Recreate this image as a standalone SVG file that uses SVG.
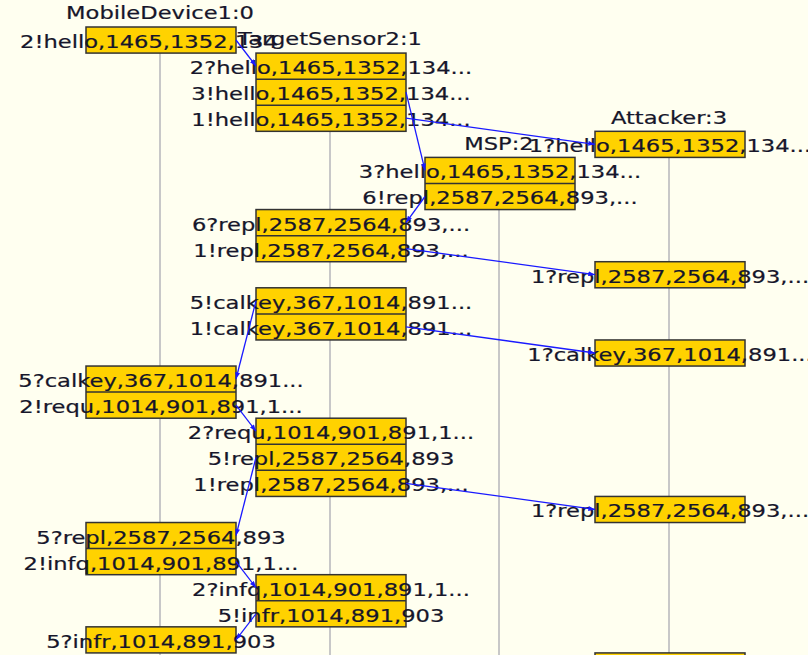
<svg xmlns="http://www.w3.org/2000/svg" width="808" height="655" viewBox="0 0 808 655">
  <defs>
    <style>
      .bg { fill: #FFFFF0; }
      .life { stroke: #C8C8C8; stroke-width: 2; fill: none; }
      .act { fill: #FFD200; stroke: #333333; stroke-width: 1.5; }
      .sep { stroke: #333333; stroke-width: 1.5; }
      .t { font-family: "DejaVu Sans", Verdana, sans-serif; font-size: 17px; fill: #16162A; stroke: #16162A; stroke-width: 0.2; text-anchor: middle; }
      .msg { stroke: #1A1AFF; stroke-width: 1.3; fill: none; marker-end: url(#head); }
    </style>
    <marker id="head" viewBox="0 0 8 6" refX="8" refY="3" markerWidth="7" markerHeight="5" markerUnits="userSpaceOnUse" orient="auto">
      <path d="M0,0 L8,3 L0,6 z" fill="#1A1AFF"/>
    </marker>
  </defs>

  <rect class="bg" x="0" y="0" width="808" height="655"/>

  <!-- lifelines -->
  <g id="lifelines">
    <line class="life" x1="160" y1="40" x2="160" y2="655"/>
    <line class="life" x1="330" y1="66" x2="330" y2="655"/>
    <line class="life" x1="499" y1="170" x2="499" y2="655"/>
    <line class="life" x1="669" y1="144" x2="669" y2="655"/>
  </g>

  <!-- MobileDevice1:0 -->
  <g id="mobile-device">
    <text class="t" transform="translate(160,19) scale(1.33,1)">MobileDevice1:0</text>
    <rect class="act" x="86" y="27" width="150" height="26.08"/>
    <rect class="act" x="86" y="366.04" width="150" height="52.16"/>
    <line class="sep" x1="86" y1="392.12" x2="236" y2="392.12"/>
    <rect class="act" x="86" y="522.52" width="150" height="52.16"/>
    <line class="sep" x1="86" y1="548.6" x2="236" y2="548.6"/>
    <rect class="act" x="86" y="626.84" width="150" height="26.08"/>
    <text class="t" style="text-anchor:start" transform="translate(20,48) scale(1.33,1)">2!hello,1465,1352,134</text>
    <text class="t" transform="translate(161,387.04) scale(1.33,1)">5?calkey,367,1014,891...</text>
    <text class="t" transform="translate(161,413.12) scale(1.33,1)">2!requ,1014,901,891,1...</text>
    <text class="t" transform="translate(161,543.52) scale(1.33,1)">5?repl,2587,2564,893</text>
    <text class="t" transform="translate(161,569.6) scale(1.33,1)">2!infq,1014,901,891,1...</text>
    <text class="t" transform="translate(161,647.84) scale(1.33,1)">5?infr,1014,891,903</text>
  </g>

  <!-- TargetSensor2:1 -->
  <g id="target-sensor">
    <text class="t" transform="translate(330,45) scale(1.33,1)">TargetSensor2:1</text>
    <rect class="act" x="256" y="53.08" width="150" height="78.24"/>
    <line class="sep" x1="256" y1="79.16" x2="406" y2="79.16"/>
    <line class="sep" x1="256" y1="105.24" x2="406" y2="105.24"/>
    <rect class="act" x="256" y="209.56" width="150" height="52.16"/>
    <line class="sep" x1="256" y1="235.64" x2="406" y2="235.64"/>
    <rect class="act" x="256" y="287.8" width="150" height="52.16"/>
    <line class="sep" x1="256" y1="313.88" x2="406" y2="313.88"/>
    <rect class="act" x="256" y="418.2" width="150" height="78.24"/>
    <line class="sep" x1="256" y1="444.28" x2="406" y2="444.28"/>
    <line class="sep" x1="256" y1="470.36" x2="406" y2="470.36"/>
    <rect class="act" x="256" y="574.68" width="150" height="52.16"/>
    <line class="sep" x1="256" y1="600.76" x2="406" y2="600.76"/>
    <text class="t" transform="translate(331,74.08) scale(1.33,1)">2?hello,1465,1352,134...</text>
    <text class="t" transform="translate(331,100.16) scale(1.33,1)">3!hello,1465,1352,134...</text>
    <text class="t" transform="translate(331,126.24) scale(1.33,1)">1!hello,1465,1352,134...</text>
    <text class="t" transform="translate(331,230.56) scale(1.33,1)">6?repl,2587,2564,893,...</text>
    <text class="t" transform="translate(331,256.64) scale(1.33,1)">1!repl,2587,2564,893,...</text>
    <text class="t" transform="translate(331,308.8) scale(1.33,1)">5!calkey,367,1014,891...</text>
    <text class="t" transform="translate(331,334.88) scale(1.33,1)">1!calkey,367,1014,891...</text>
    <text class="t" transform="translate(331,439.2) scale(1.33,1)">2?requ,1014,901,891,1...</text>
    <text class="t" transform="translate(331,465.28) scale(1.33,1)">5!repl,2587,2564,893</text>
    <text class="t" transform="translate(331,491.36) scale(1.33,1)">1!repl,2587,2564,893,...</text>
    <text class="t" transform="translate(331,595.68) scale(1.33,1)">2?infq,1014,901,891,1...</text>
    <text class="t" transform="translate(331,621.76) scale(1.33,1)">5!infr,1014,891,903</text>
  </g>

  <!-- MSP:2 -->
  <g id="msp">
    <text class="t" transform="translate(499,150) scale(1.33,1)">MSP:2</text>
    <rect class="act" x="425" y="157.4" width="150" height="52.16"/>
    <line class="sep" x1="425" y1="183.48" x2="575" y2="183.48"/>
    <text class="t" transform="translate(500,178.4) scale(1.33,1)">3?hello,1465,1352,134...</text>
    <text class="t" transform="translate(500,204.48) scale(1.33,1)">6!repl,2587,2564,893,...</text>
  </g>

  <!-- Attacker:3 -->
  <g id="attacker">
    <text class="t" transform="translate(669,124) scale(1.33,1)">Attacker:3</text>
    <rect class="act" x="595" y="131.32" width="150" height="26.08"/>
    <rect class="act" x="595" y="261.72" width="150" height="26.08"/>
    <rect class="act" x="595" y="339.96" width="150" height="26.08"/>
    <rect class="act" x="595" y="496.44" width="150" height="26.08"/>
    <rect class="act" x="595" y="652.92" width="150" height="26.08"/>
    <text class="t" transform="translate(670,152.32) scale(1.33,1)">1?hello,1465,1352,134...</text>
    <text class="t" transform="translate(670,282.72) scale(1.33,1)">1?repl,2587,2564,893,...</text>
    <text class="t" transform="translate(670,360.96) scale(1.33,1)">1?calkey,367,1014,891...</text>
    <text class="t" transform="translate(670,517.44) scale(1.33,1)">1?repl,2587,2564,893,...</text>
  </g>

  <!-- messages -->
  <g id="connectors">
    <line class="msg" x1="236" y1="40" x2="256" y2="66.1"/>
    <line class="msg" x1="406" y1="92.2" x2="425" y2="170.4"/>
    <line class="msg" x1="406" y1="118.2" x2="595" y2="144.3"/>
    <line class="msg" x1="425" y1="196.5" x2="406" y2="222.6"/>
    <line class="msg" x1="406" y1="248.6" x2="595" y2="274.7"/>
    <line class="msg" x1="256" y1="300.8" x2="236" y2="379"/>
    <line class="msg" x1="406" y1="326.9" x2="595" y2="353"/>
    <line class="msg" x1="236" y1="405.1" x2="256" y2="431.2"/>
    <line class="msg" x1="256" y1="457.3" x2="236" y2="535.5"/>
    <line class="msg" x1="406" y1="483.4" x2="595" y2="509.4"/>
    <line class="msg" x1="236" y1="561.6" x2="256" y2="587.7"/>
    <line class="msg" x1="256" y1="613.8" x2="236" y2="639.8"/>
  </g>
</svg>
